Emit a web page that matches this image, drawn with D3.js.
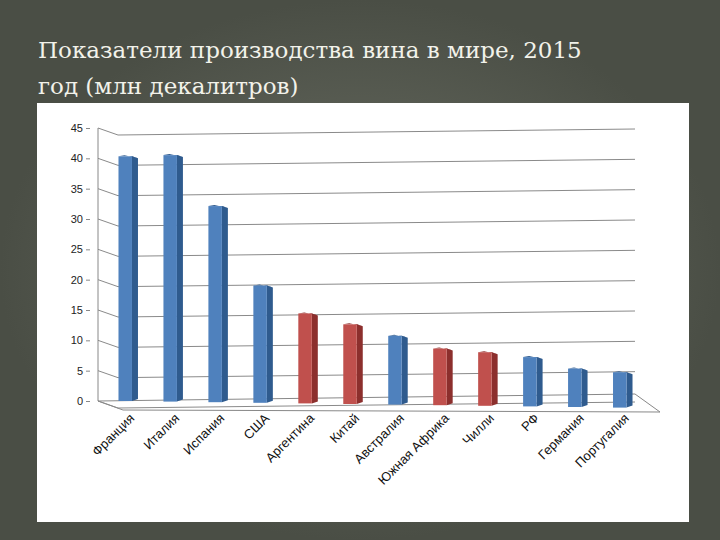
<!DOCTYPE html>
<html><head><meta charset="utf-8">
<script src="https://cdn.jsdelivr.net/npm/d3@7"></script>
<style>body{margin:0;background:#555a50;}</style>
</head><body>
<svg id="c" width="720" height="540"></svg>
<script>
const countries = ['Франция','Италия','Испания','США','Аргентина','Китай','Австралия','Южная Африка','Чилли','РФ','Германия','Португалия'];
const values = [40, 40.3, 32, 19, 14.5, 12.8, 11, 9, 8.5, 7.8, 6, 5.5];
const isRed = [false,false,false,false,true,true,false,true,true,false,false,false];
const yTicks = [0,5,10,15,20,25,30,35,40,45];

const svg = d3.select('#c');
const bg = svg.append('defs').append('radialGradient').attr('id','bg');
bg.append('stop').attr('offset','0%').attr('stop-color','#6b6f64');
bg.append('stop').attr('offset','100%').attr('stop-color','#4a4e45');
svg.append('rect').attr('width',720).attr('height',540).attr('fill','url(#bg)');

svg.append('text').attr('x',38).attr('y',58).attr('fill','#f2f2ea')
  .attr('font-family','DejaVu Serif, serif').attr('font-size',23).text('Показатели производства вина в мире, 2015');
svg.append('text').attr('x',38).attr('y',94).attr('fill','#f2f2ea')
  .attr('font-family','DejaVu Serif, serif').attr('font-size',23).text('год (млн декалитров)');

svg.append('rect').attr('x',37).attr('y',103).attr('width',652).attr('height',419).attr('fill','#fff');

const y = d3.scaleLinear().domain([0,45]).range([401,128]);
const x = d3.scaleBand().domain(countries).range([105,640]).paddingInner(0.7).paddingOuter(0.3);
const g = svg.append('g');
const dx = 25, dy = 9;
g.append('path').attr('d',`M98,${y(0)} L${98+dx},${y(0)+dy} L660,${y(0)+dy+2} L635,${y(0)-7} Z`)
  .attr('fill','none').attr('stroke','#888');
yTicks.forEach(t=>{
  const yy = y(t);
  g.append('path').attr('d',`M98,${yy} L${98+dx-5},${yy+dy-2} L635,${yy+1}`)
    .attr('fill','none').attr('stroke','#8a8a8a').attr('stroke-width',1);
});
g.append('line').attr('x1',98).attr('x2',98).attr('y1',y(45)).attr('y2',y(0)).attr('stroke','#888');
const ax = g.append('g').attr('transform','translate(90,0)')
  .call(d3.axisLeft(y).tickValues(yTicks).tickSize(4).tickSizeOuter(0));
ax.select('.domain').remove();
ax.selectAll('text').attr('font-family','Liberation Sans, sans-serif').attr('font-size',11).attr('fill','#222');
ax.selectAll('line').attr('stroke','#888');

const bw = x.bandwidth(), side = 6;
countries.forEach((c,i)=>{
  const x0 = x(c), base = y(0) - 2 + i*0.6, top = base - (y(0)-y(values[i]));
  const front = isRed[i] ? '#c0504d' : '#4f81bd';
  const dark = isRed[i] ? '#8c2f2d' : '#2f5b8e';
  g.append('path').attr('d',`M${x0+bw},${top} L${x0+bw+side},${top+2} L${x0+bw+side},${base} L${x0+bw},${base+2} Z`).attr('fill',dark);
  g.append('path').attr('d',`M${x0},${top} L${x0+side},${top-1} L${x0+bw+side},${top+2} L${x0+bw},${top} Z`).attr('fill',dark);
  g.append('rect').attr('x',x0).attr('y',top).attr('width',bw).attr('height',base+2-top).attr('fill',front);
  g.append('text').attr('transform',`translate(${x0+bw/2+10},${y(0)+18}) rotate(-45)`)
    .attr('text-anchor','end').attr('font-family','Liberation Sans, sans-serif').attr('font-size',13).attr('fill','#111').text(c);
});
</script>
</body></html>
